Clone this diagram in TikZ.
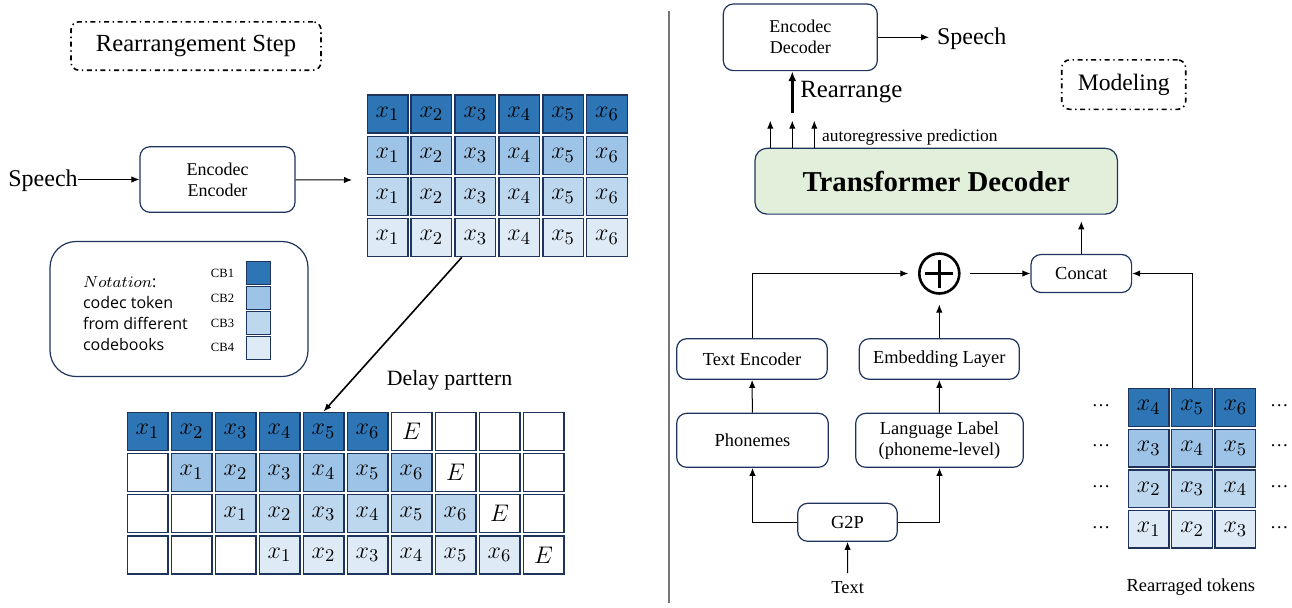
\documentclass[tikz,border=0pt]{standalone}
\usepackage{amsmath}
\usepackage{fontspec}
\setmainfont{Liberation Serif}
\setsansfont{Open Sans}
\usetikzlibrary{arrows.meta,positioning}

\definecolor{cbone}{RGB}{46,117,182}
\definecolor{cbtwo}{RGB}{157,195,230}
\definecolor{cbthree}{RGB}{189,215,238}
\definecolor{cbfour}{RGB}{222,235,247}
\definecolor{navy}{RGB}{31,52,92}
\definecolor{tfgreen}{RGB}{226,239,218}
\definecolor{sepgray}{RGB}{118,118,118}

\begin{document}
\begin{tikzpicture}[x=0.5pt, y=-0.5pt,
    box/.style={draw=navy, line width=0.6pt, rounded corners=5pt, align=center, inner sep=0pt, font=\fontsize{9.2}{10.5}\selectfont},
    cell/.style={draw=navy, line width=0.7pt, minimum width=20.3pt, minimum height=19pt, inner sep=0pt, font=\fontsize{12.5}{12.5}\selectfont},
    tag/.style={draw, line width=0.8pt, rounded corners=4pt, dash pattern=on 2.5pt off 1.8pt on 0.7pt off 1.8pt, inner sep=0pt},
    lbl/.style={inner sep=0pt, font=\fontsize{9.2}{10.5}\selectfont},
    arr/.style={-{Latex[length=4pt, width=3.2pt]}, line width=0.5pt},
    plus/.style={circle, draw, line width=1.3pt, minimum size=20pt, inner sep=0pt, outer sep=5.5pt,
        path picture={\draw[line width=1.2pt]
            ([xshift=-7pt]path picture bounding box.center) -- ([xshift=7pt]path picture bounding box.center)
            ([yshift=-7pt]path picture bounding box.center) -- ([yshift=7pt]path picture bounding box.center);}}]

    \useasboundingbox (0,0) rectangle (1292,607);

    % rearrangement step
    \node[tag, minimum width=125pt, minimum height=24.2pt, font=\fontsize{12.3}{14}\selectfont] (rstep) at (196,46) {Rearrangement Step};
    \node[inner sep=0pt, font=\fontsize{12}{14}\selectfont] (speechin) at (43,181) {Speech};
    \node[box, minimum width=77.5pt, minimum height=32.8pt, font=\fontsize{9}{10.5}\selectfont] (enc) at (217.5,179.5) {Encodec\\Encoder};
    \coordinate (encout) at (352,180);
    \draw[arr] (speechin.east |- enc) -- (enc);
    \draw[arr] (enc) -- (encout);

    \foreach \r/\col in {1/cbone,2/cbtwo,3/cbthree,4/cbfour}
        \foreach \c in {1,...,6}
            \node[cell, fill=\col] (t\r-\c) at ({387.5+43.9*(\c-1)}, {114+41.2*(\r-1)}) {$x_{\c}$};

    % notation
    \node[draw=navy, line width=0.6pt, rounded corners=13pt, minimum width=129pt, minimum height=67.5pt] (notation) at (179,309) {};
    \node[anchor=west, align=left, inner sep=0pt, font=\sffamily\fontsize{8}{10.5}\selectfont] (notetext) at (82.7,314) {$Notation$:\\codec token\\from different\\codebooks};
    \foreach \i/\col in {1/cbone,2/cbtwo,3/cbthree,4/cbfour}{
        \node[draw=navy, line width=0.6pt, fill=\col, minimum width=12pt, minimum height=11.5pt, inner sep=0pt] (cb\i) at (258.7, {273.3+24.8*(\i-1)}) {};
        \node[inner sep=0pt, font=\fontsize{6.3}{7}\selectfont, left=5.8pt of cb\i] (cbl\i) {CB\i};
    }

    % delay pattern
    \node[lbl, font=\fontsize{10.9}{12}\selectfont] (delay) at (449.5,380) {Delay parttern};
    \foreach \r/\col in {1/cbone,2/cbtwo,3/cbthree,4/cbfour}
        \foreach \c in {1,...,10}{
            \pgfmathtruncatemacro{\k}{\c-\r+1}
            \ifnum\k<1
                \node[cell] (d\r-\c) at ({147.5+44*(\c-1)}, {431.3+41.2*(\r-1)}) {};
            \else\ifnum\k<7
                \node[cell, fill=\col] (d\r-\c) at ({147.5+44*(\c-1)}, {431.3+41.2*(\r-1)}) {$x_{\k}$};
            \else\ifnum\k=7
                \node[cell] (d\r-\c) at ({147.5+44*(\c-1)}, {431.3+41.2*(\r-1)}) {$E$};
            \else
                \node[cell] (d\r-\c) at ({147.5+44*(\c-1)}, {431.3+41.2*(\r-1)}) {};
            \fi\fi\fi
        }
    \draw[arr, line width=0.8pt] ([xshift=-6.75pt]t4-3.south) -- (d1-5.north);

    \draw[sepgray, line width=0.75pt] (669,11) -- (669,603);

    % modeling
    \node[box, minimum width=77pt, minimum height=33.3pt, font=\fontsize{9}{10.5}\selectfont] (dec) at (800.3,37.3) {Encodec\\Decoder};
    \node[inner sep=0pt, outer sep=4pt, font=\fontsize{12}{14}\selectfont] (speechout) at (971.7,38.5) {Speech};
    \draw[arr] (dec) -- (speechout.west |- dec);
    \node[tag, minimum width=62pt, minimum height=24.7pt, font=\fontsize{11.8}{14}\selectfont] (model) at (1123.7,84.6) {Modeling};

    \node[box, fill=tfgreen, rounded corners=6pt, minimum width=181.2pt, minimum height=32.9pt, font=\bfseries\fontsize{14.4}{16}\selectfont] (tf) at (936.2,181.2) {Transformer Decoder};
    \coordinate (rtail) at (792.3,113.3);
    \draw[-{Latex[length=5pt, width=4pt]}, line width=1.5pt] (rtail) -- (rtail |- dec.south);
    \node[anchor=west, inner sep=0pt, font=\fontsize{12.4}{14}\selectfont] (rearr) at (800,92.5) {Rearrange};
    \foreach \x [count=\i] in {770.3,792.3,814.3}{
        \coordinate (ar\i) at (\x,120.7);
        \draw[arr] (ar\i |- tf.north) -- (ar\i);
    }
    \node[anchor=west, inner sep=0pt, font=\fontsize{8.7}{10}\selectfont] (arp) at (821.7,137.7) {autoregressive prediction};

    \node[box, minimum width=50.3pt, minimum height=19pt] (concat) at (1081.3,273.5) {Concat};
    \node[plus] (plus) at (939.3,273.5) {};
    \node[box, minimum width=75.3pt, minimum height=20.3pt] (tenc) at (752,359) {Text Encoder};
    \node[box, minimum width=80pt, minimum height=20.3pt] (emb) at (939.3,359) {Embedding Layer};
    \node[box, minimum width=75.8pt, minimum height=27pt] (phon) at (752.5,440.3) {Phonemes};
    \node[box, minimum width=83.8pt, minimum height=27pt] (lang) at (939.5,440.3) {Language Label\\(phoneme-level)};
    \node[box, minimum width=49.8pt, minimum height=19pt] (g2p) at (847.5,522.3) {G2P};
    \node[lbl, outer sep=4pt] (text) at (847.7,587.3) {Text};

    \draw[arr] (text) -- (g2p);
    \draw[arr] (g2p.west) -| (phon.south);
    \draw[arr] (g2p.east) -| (lang.south);
    \draw[arr] (phon) -- (tenc);
    \draw[arr] (lang) -- (emb);
    \draw[arr] (emb) -- (plus);
    \draw[arr] (tenc.north) |- (plus.west);
    \draw[arr] (plus) -- (concat);
    \draw[arr] (concat.north) -- ([yshift=-3.3pt]concat.north |- tf.south);

    % rearranged tokens
    \foreach \r/\col/\s in {1/cbone/4,2/cbtwo/3,3/cbthree/2,4/cbfour/1}{
        \foreach \c in {1,2,3}{
            \pgfmathtruncatemacro{\k}{\s+\c-1}
            \node[cell, fill=\col, minimum height=18.8pt] (tok\r-\c) at ({1148.7+43.35*(\c-1)}, {407.5+40.6*(\r-1)}) {$x_{\k}$};
        }
        \node[lbl, left=8.5pt of tok\r-1, yshift=1pt] (ldots\r) {\dots};
        \node[lbl, right=6.7pt of tok\r-3, yshift=1pt] (rdots\r) {\dots};
    }
    \draw[arr] (tok1-2.north) |- (concat.east);
    \node[lbl] (toklabel) at (1190.8,587.3) {Rearraged tokens};
\end{tikzpicture}
\end{document}
